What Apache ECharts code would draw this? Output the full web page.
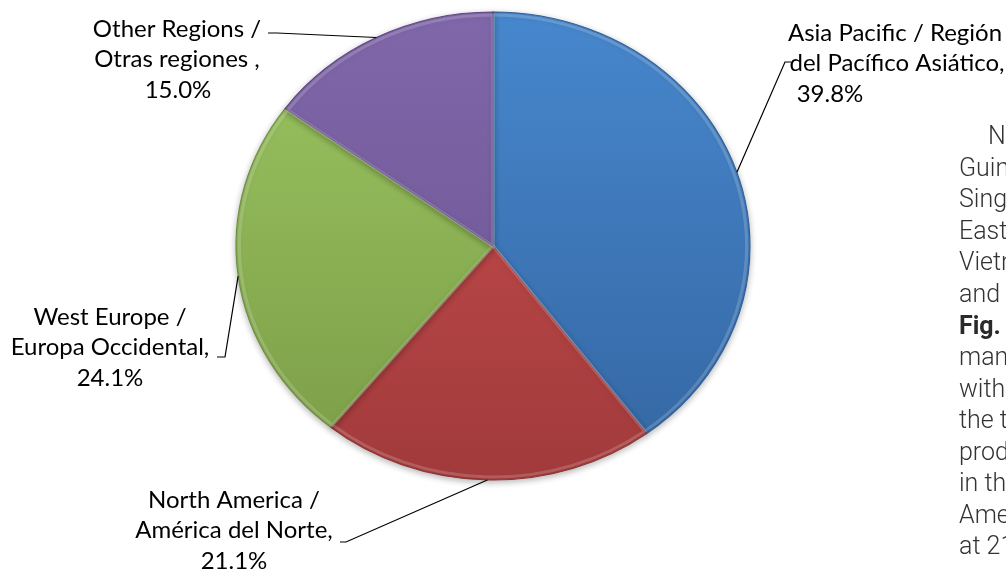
<!DOCTYPE html>
<html>
<head>
<meta charset="utf-8">
<script src="https://cdn.jsdelivr.net/npm/echarts@6/dist/echarts.min.js"></script>
<style>
html,body{margin:0;padding:0;background:#fff;}
#chart{width:1006px;height:574px;}
</style>
</head>
<body>
<div id="chart"></div>
<script>
// ---- data ----
const categories = [
  'Asia Pacific / Región\ndel Pacífico Asiático,',
  'North America /\nAmérica del Norte,',
  'West Europe /\nEuropa Occidental,',
  'Other Regions /\nOtras regiones ,'
];
const shares = [39.8, 21.1, 24.1, 15.0];
const sideTextLines = ['Ne', 'Guinea', 'Singapore', 'East', 'Vietnam', 'and', 'Fig.', 'many', 'with', 'the top', 'producing', 'in the', 'America', 'at 21.1%'];
const sideTextBold = [false, false, false, false, false, false, true, false, false, false, false, false, false, false];

// ---- layout / style ----
const PIE = {cx: 493, cy: 246, rx: 257, ry: 234};
const SLICE_STYLE = [
  {top: '#4787CD', bottom: '#3466A2', stroke: '#2F5F96'},
  {top: '#CC5050', bottom: '#A13A3B', stroke: '#8E3536'},
  {top: '#9BC561', bottom: '#7A9C46', stroke: '#6E8D3F'},
  {top: '#8067AA', bottom: '#6A518E', stroke: '#5B4680'}
];
const LABEL_LAYOUT = [
  {x: [895, 897, 830], y: 33, stub: [[791, 62], [785, 62]]},
  {x: [234, 234, 234], y: 500, stub: [[340, 542], [346, 542]]},
  {x: [110, 110, 110], y: 317, stub: [[217, 357], [225, 357]]},
  {x: [177, 177, 178], y: 29, stub: [[268, 33], [277, 33]]}
];
const LABEL_FONT = '24px Lato';
const LINE_H = 30.5;

const total = shares.reduce((a, b) => a + b, 0);
const cum = [];
shares.reduce((acc, v, i) => { cum[i] = acc; return acc + v; }, 0);

function renderItem(params, api) {
  const i = params.dataIndex;
  const v = api.value(0);
  const f0 = cum[i] / total, f1 = (cum[i] + v) / total;
  const a0 = -Math.PI / 2 + f0 * 2 * Math.PI;
  const a1 = -Math.PI / 2 + f1 * 2 * Math.PI;
  const am = (a0 + a1) / 2;
  const st = SLICE_STYLE[i];
  const grad = new echarts.graphic.LinearGradient(0, -PIE.ry, 0, PIE.ry, [
    {offset: 0, color: st.top}, {offset: 1, color: st.bottom}
  ], true);
  const children = [];
  children.push({
    type: 'group', x: PIE.cx, y: PIE.cy, scaleX: PIE.rx / PIE.ry, scaleY: 1,
    children: [{
      type: 'sector',
      shape: {cx: 0, cy: 0, r0: 0, r: PIE.ry, startAngle: a0, endAngle: a1, clockwise: true},
      style: {fill: grad, stroke: st.stroke, lineWidth: 1, strokeNoScale: true,
        shadowBlur: 6, shadowColor: 'rgba(0,0,0,0.28)', shadowOffsetY: 2}
    }, {
      type: 'sector',
      shape: {cx: 0, cy: 0, r0: 0, r: PIE.ry - 3, startAngle: a0, endAngle: a1, clockwise: true},
      style: {fill: 'none', stroke: 'rgba(255,255,255,0.18)', lineWidth: 3, strokeNoScale: true}
    }]
  });
  const L = LABEL_LAYOUT[i];
  const anchor = [PIE.cx + PIE.rx * Math.cos(am), PIE.cy + PIE.ry * Math.sin(am)];
  children.push({
    type: 'polyline',
    shape: {points: [L.stub[0], L.stub[1], anchor]},
    style: {fill: 'none', stroke: '#000', lineWidth: 1.2}
  });
  const lines = categories[i].split('\n').concat([v.toFixed(1) + '%']);
  lines.forEach((t, k) => {
    children.push({
      type: 'text',
      style: {text: t, x: L.x[k], y: L.y + k * LINE_H, align: 'center', verticalAlign: 'middle',
        font: LABEL_FONT, fill: '#000'}
    });
  });
  return {type: 'group', children: children};
}

const graphicTexts = sideTextLines.map((t, k) => ({
  type: 'text',
  x: k === 0 ? 988 : 959,
  y: 138 + k * 31.55,
  style: {text: t, font: (sideTextBold[k] ? 'bold ' : '300 ') + '25px Roboto', fill: sideTextBold[k] ? '#2a2a2a' : '#333',
    align: 'left', verticalAlign: 'middle'}
}));

const chart = echarts.init(document.getElementById('chart'), null, {renderer: 'canvas'});
chart.setOption({
  animation: false,
  backgroundColor: '#fff',
  graphic: graphicTexts,
  series: [{
    type: 'custom',
    coordinateSystem: 'none',
    renderItem: renderItem,
    data: shares.map(v => [v])
  }]
});
</script>
</body>
</html>
